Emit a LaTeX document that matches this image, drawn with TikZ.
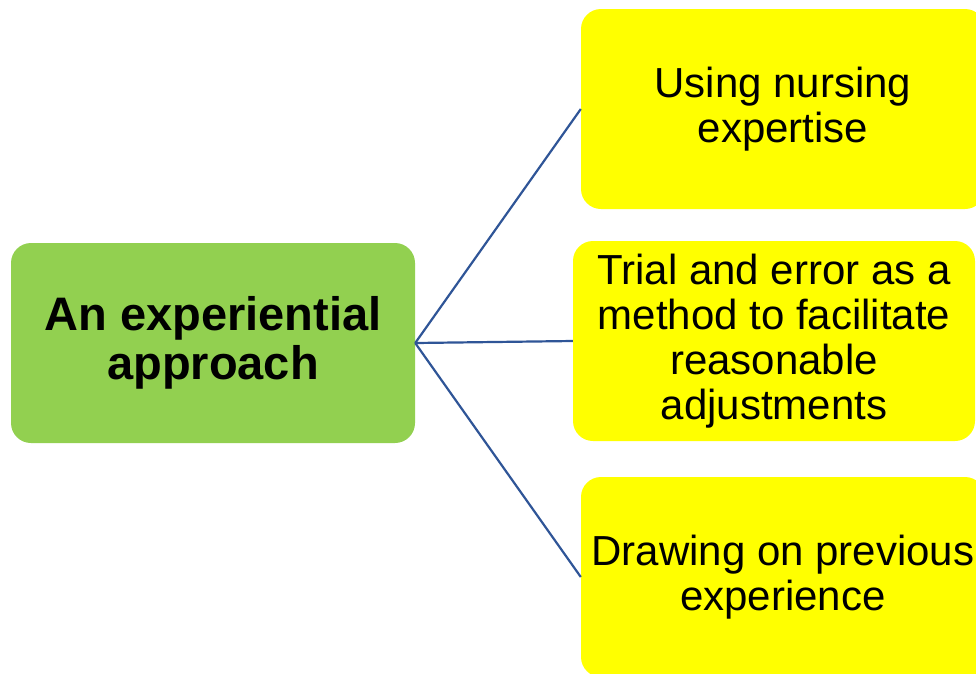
\documentclass[tikz,border=0pt]{standalone}
\usepackage{fontspec}
\setmainfont{Liberation Sans}
\usetikzlibrary{calc}
\definecolor{leafgreen}{RGB}{146,208,80}
\definecolor{leafyellow}{RGB}{255,255,0}
\definecolor{linkblue}{RGB}{47,85,151}
\tikzset{%
  box/.style    = {shape=rectangle, rounded corners=20pt, inner sep=0pt,%
                   minimum width=404pt, minimum height=200pt, align=center},%
  hub/.style    = {box, fill=leafgreen, font=\fontsize{47}{49}\selectfont\bfseries},%
  leaf/.style   = {box, fill=leafyellow, font=\fontsize{42}{45}\selectfont},%
  link/.style   = {draw=linkblue, line width=2.2pt}%
}
\begin{document}
\begin{tikzpicture}[x=1pt,y=-1pt]%
	\useasboundingbox (0,0) rectangle (976,673);%
	\clip (0,0) rectangle (976,673);%
	\node[hub]  (approach)  at (213,343) {An experiential\\approach};%
	\node[leaf] (expertise) at (783,109) {Using nursing\\expertise};%
	\node[leaf, minimum width=402pt] (trial) at (774,341)%
		{Trial and error as a\\method to facilitate\\reasonable\\adjustments};%
	\node[leaf] (previous)  at (783,577) {Drawing on previous\\experience};%
	% links from the hub
	\draw[link] (approach.east) -- (expertise.west);%
	\draw[link] (approach.east) -- (trial.west);%
	\draw[link] (approach.east) -- (previous.west);%
\end{tikzpicture}
\end{document}
